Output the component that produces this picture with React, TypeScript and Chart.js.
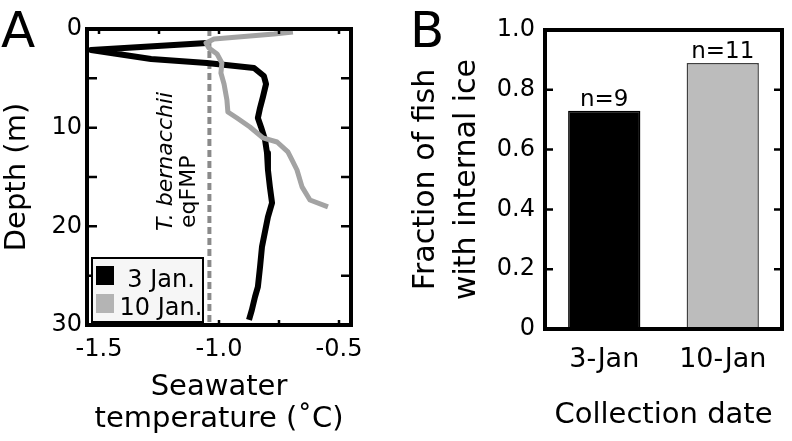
import React, { useEffect, useRef } from 'react';
import { Chart, registerables } from 'chart.js';

Chart.register(...registerables);

const FONT = "'DejaVu Sans', 'Liberation Sans', sans-serif";

// ---------- Panel A: temperature profiles ----------
const jan3Temp = [-1.05, -1.533, -1.283, -1.05, -0.854, -0.813, -0.804, -0.817, -0.829, -0.838, -0.825, -0.808, -0.8, -0.796, -0.788, -0.779, -0.796, -0.821, -0.829, -0.838, -0.85, -0.863, -0.875];
const jan3Depth = [1.42, 2.13, 3.04, 3.44, 3.95, 4.76, 5.57, 6.89, 8.0, 9.02, 9.93, 11.25, 12.56, 14.29, 16.0, 17.63, 19.05, 22.09, 24.11, 26.14, 27.15, 28.47, 29.48];
const jan10Temp = [-0.692, -0.771, -1.021, -1.054, -1.042, -1.008, -0.988, -0.992, -0.979, -0.967, -0.963, -0.925, -0.871, -0.817, -0.758, -0.713, -0.696, -0.675, -0.654, -0.621, -0.546];
const jan10Depth = [0.3, 0.51, 1.01, 1.42, 1.93, 2.53, 3.44, 4.46, 5.57, 7.19, 8.41, 9.02, 9.93, 11.04, 11.45, 12.46, 13.27, 14.29, 16.0, 17.33, 18.03];
const eqFMP = -1.04;
const seriesLabels = ['3 Jan.', '10 Jan.'];
const seriesColors = ['#000000', '#a3a3a3'];
const legendColors = ['#000000', '#b4b4b4'];
const tempTicks = [-1.5, -1.25, -1.0, -0.75, -0.5];
const depthTicks = [0, 5, 10, 15, 20, 25, 30];

// ---------- Panel B: fraction with internal ice ----------
const dates = ['3-Jan', '10-Jan'];
const fractionIce = [0.73, 0.89];
const sampleSizes = ['n=9', 'n=11'];
const barColors = ['#000000', '#bcbcbc'];
const fractionTicks = [0, 0.2, 0.4, 0.6, 0.8, 1.0];

Chart.defaults.font.family = FONT;
Chart.defaults.color = '#000';

function framePlugin(id: string, o: { xTicks: number[]; yTicks: number[]; xLen: number; yLen: number; frame: number; tick: number }) {
  return {
    id,
    afterDraw(chart: any) {
      const { ctx, chartArea: a, scales } = chart;
      ctx.save();
      ctx.strokeStyle = '#000';
      ctx.lineWidth = o.tick;
      ctx.beginPath();
      for (const v of o.yTicks) {
        const y = scales.y.getPixelForValue(v);
        if (y <= a.top + 2 || y >= a.bottom - 2) continue;
        ctx.moveTo(a.left, y);
        ctx.lineTo(a.left + o.yLen, y);
        ctx.moveTo(a.right, y);
        ctx.lineTo(a.right - o.yLen, y);
      }
      for (const v of o.xTicks) {
        const x = scales.x.getPixelForValue(v);
        if (x <= a.left + 2 || x >= a.right - 2) continue;
        ctx.moveTo(x, a.bottom);
        ctx.lineTo(x, a.bottom - o.xLen);
        ctx.moveTo(x, a.top);
        ctx.lineTo(x, a.top + o.xLen);
      }
      ctx.stroke();
      ctx.lineWidth = o.frame;
      ctx.strokeRect(a.left, a.top, a.right - a.left, a.bottom - a.top);
      ctx.restore();
    },
  };
}

const annotateA = {
  id: 'annotateA',
  afterDraw(chart: any) {
    const { ctx, chartArea: a, scales } = chart;
    ctx.save();
    ctx.fillStyle = '#000';
    // panel letter
    ctx.font = `50px ${FONT}`;
    ctx.textAlign = 'left';
    ctx.textBaseline = 'alphabetic';
    ctx.fillText('A', 1, 47);
    // rotated eqFMP annotation
    const xe = scales.x.getPixelForValue(eqFMP);
    ctx.save();
    ctx.translate(xe - 37, 231);
    ctx.rotate(-Math.PI / 2);
    ctx.font = `italic 22px ${FONT}`;
    ctx.fillText('T. bernacchii', 0, 0);
    ctx.restore();
    ctx.save();
    ctx.translate(xe - 14, 228);
    ctx.rotate(-Math.PI / 2);
    ctx.font = `22px ${FONT}`;
    ctx.fillText('eqFMP', 0, 0);
    ctx.restore();
    // legend box
    const lx = a.left + 5, ly = a.bottom - 67, lw = 111, lh = 64;
    ctx.fillStyle = '#f6f6f6';
    ctx.fillRect(lx, ly, lw, lh);
    ctx.strokeStyle = '#000';
    ctx.lineWidth = 2;
    ctx.strokeRect(lx, ly, lw, lh);
    ctx.font = `24px ${FONT}`;
    ctx.textAlign = 'center';
    seriesLabels.forEach((lab, i) => {
      const y0 = ly + 8 + i * 28;
      ctx.fillStyle = legendColors[i];
      ctx.fillRect(lx + 4, y0, 18, 19);
      ctx.fillStyle = '#000';
      ctx.fillText(lab, lx + 69, y0 + 21);
    });
    ctx.restore();
  },
};

const annotateB = {
  id: 'annotateB',
  afterDraw(chart: any) {
    const { ctx } = chart;
    ctx.save();
    ctx.fillStyle = '#000';
    ctx.font = `50px ${FONT}`;
    ctx.textAlign = 'left';
    ctx.textBaseline = 'alphabetic';
    ctx.fillText('B', 10, 47);
    const meta = chart.getDatasetMeta(0);
    ctx.font = `23px ${FONT}`;
    ctx.textAlign = 'center';
    meta.data.forEach((bar: any, i: number) => {
      ctx.fillText(sampleSizes[i], bar.x, bar.y - 5);
    });
    ctx.restore();
  },
};

export default function App() {
  const refA = useRef<HTMLCanvasElement>(null);
  const refB = useRef<HTMLCanvasElement>(null);

  useEffect(() => {
    const chartA = new Chart(refA.current as HTMLCanvasElement, {
      type: 'scatter',
      data: {
        datasets: [
          {
            label: seriesLabels[1],
            data: jan10Temp.map((t, i) => ({ x: t, y: jan10Depth[i] })),
            showLine: true,
            borderColor: seriesColors[1],
            backgroundColor: seriesColors[1],
            borderWidth: 5,
            pointRadius: 0,
            borderJoinStyle: 'round',
          },
          {
            label: seriesLabels[0],
            data: jan3Temp.map((t, i) => ({ x: t, y: jan3Depth[i] })),
            showLine: true,
            borderColor: seriesColors[0],
            backgroundColor: seriesColors[0],
            borderWidth: 6,
            pointRadius: 0,
            borderJoinStyle: 'round',
          },
          {
            label: 'T. bernacchii eqFMP',
            data: [
              { x: eqFMP, y: depthTicks[0] },
              { x: eqFMP, y: depthTicks[depthTicks.length - 1] },
            ],
            showLine: true,
            borderColor: '#8a8a8a',
            borderWidth: 4,
            borderDash: [7, 4],
            pointRadius: 0,
          },
        ],
      },
      options: {
        responsive: false,
        animation: false,
        layout: { padding: { top: 29, right: 49, left: 0, bottom: 0 } },
        plugins: { legend: { display: false }, tooltip: { enabled: false } },
        scales: {
          x: {
            type: 'linear',
            position: 'bottom',
            min: -1.55,
            max: -0.45,
            grid: { display: false, drawTicks: false },
            border: { display: false },
            ticks: {
              stepSize: 0.25,
              includeBounds: false,
              autoSkip: false,
              maxRotation: 0,
              padding: 10,
              font: { size: 24 },
              color: '#000',
              callback: (v: any) => (Math.abs(v * 2 - Math.round(v * 2)) < 1e-6 ? Number(v).toFixed(1) : ''),
            },
            title: {
              display: true,
              text: ['Seawater', 'temperature (˚C)'],
              font: { size: 29, lineHeight: 1.1 },
              padding: { top: 0, bottom: 6 },
              color: '#000',
            },
            afterFit: (s: any) => {
              s.height = 116;
            },
          },
          y: {
            type: 'linear',
            reverse: true,
            min: 0,
            max: 30,
            grid: { display: false, drawTicks: false },
            border: { display: false },
            ticks: {
              stepSize: 5,
              autoSkip: false,
              padding: 5,
              font: { size: 24 },
              color: '#000',
              callback: (v: any) => (v % 10 === 0 ? String(v) : ''),
            },
            title: {
              display: true,
              text: 'Depth (m)',
              font: { size: 29 },
              padding: { top: 0, bottom: 0 },
              color: '#000',
            },
            afterFit: (s: any) => {
              s.width = 87;
            },
          },
        },
      },
      plugins: [
        framePlugin('frameA', { xTicks: tempTicks, yTicks: depthTicks, xLen: 5, yLen: 10, frame: 4, tick: 2.5 }),
        annotateA,
      ],
    } as any);

    const chartB = new Chart(refB.current as HTMLCanvasElement, {
      type: 'bar',
      data: {
        labels: dates,
        datasets: [
          {
            label: 'Fraction of fish with internal ice',
            data: fractionIce,
            backgroundColor: barColors,
            borderColor: ['#000000', '#404040'],
            borderWidth: 1.5,
            categoryPercentage: 1,
            barPercentage: 0.61,
          },
        ],
      },
      options: {
        responsive: false,
        animation: false,
        layout: { padding: { top: 30, right: 10, left: 0, bottom: 0 } },
        plugins: { legend: { display: false }, tooltip: { enabled: false } },
        scales: {
          x: {
            grid: { display: false, drawTicks: false },
            border: { display: false },
            ticks: { padding: 15, font: { size: 27 }, color: '#000', maxRotation: 0 },
            title: {
              display: true,
              text: 'Collection date',
              font: { size: 29 },
              padding: { top: 0, bottom: 8 },
              color: '#000',
            },
            afterFit: (s: any) => {
              s.height = 112;
            },
          },
          y: {
            min: 0,
            max: 1,
            grid: { display: false, drawTicks: false },
            border: { display: false },
            ticks: {
              stepSize: 0.2,
              padding: 10,
              font: { size: 24 },
              color: '#000',
              callback: (v: any) => (v === 0 ? '0' : Number(v).toFixed(1)),
            },
            title: {
              display: true,
              text: ['Fraction of fish', 'with internal ice'],
              font: { size: 30, lineHeight: 1.37 },
              padding: { top: 6, bottom: 0 },
              color: '#000',
            },
            afterFit: (s: any) => {
              s.width = 145;
            },
          },
        },
      },
      plugins: [
        framePlugin('frameB', { xTicks: [], yTicks: fractionTicks, xLen: 0, yLen: 8, frame: 4, tick: 2.5 }),
        annotateB,
      ],
    } as any);

    return () => {
      chartA.destroy();
      chartB.destroy();
    };
  }, []);

  return (
    <div style={{ position: 'absolute', left: 0, top: 0, width: 792, height: 441, background: '#fff' }}>
      <canvas ref={refA} width={400} height={441} style={{ position: 'absolute', left: 0, top: 0, width: 400, height: 441 }} />
      <canvas ref={refB} width={392} height={441} style={{ position: 'absolute', left: 400, top: 0, width: 392, height: 441 }} />
    </div>
  );
}
